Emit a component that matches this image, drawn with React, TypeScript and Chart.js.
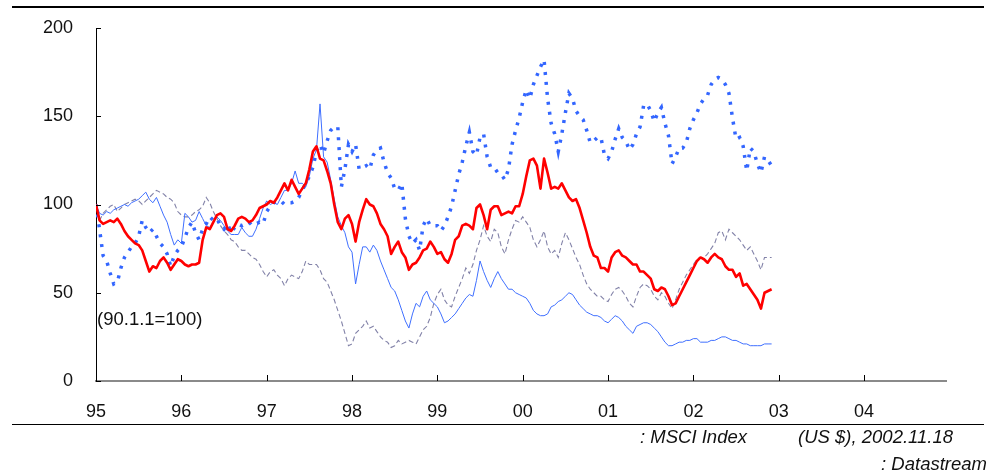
import React, { useEffect, useRef } from 'react';
import { Chart, registerables } from 'chart.js';

Chart.register(...registerables);

// Semi-monthly observations from 1995.0 to 2002.9
const START_YEAR = 1995;
const STEPS_PER_YEAR = 24;

const redSeries = [
  100, 91, 89, 90, 91, 90, 92, 89, 85, 82,
  80, 78, 77, 74, 68, 62, 65, 64, 68, 70,
  67, 63, 66, 69, 68, 66, 65, 66, 66, 67,
  80, 87, 86, 90, 94, 95, 93, 86, 85, 88,
  92, 93, 92, 90, 91, 94, 98, 99, 100, 102,
  101, 104, 108, 112, 108, 114, 110, 106, 109, 112,
  120, 130, 133, 126, 125, 119, 112, 100, 90, 86,
  92, 94, 89, 79, 90, 97, 103, 100, 99, 95,
  89, 86, 82, 72, 76, 79, 73, 70, 63, 66,
  67, 70, 74, 75, 79, 76, 72, 73, 69, 67,
  72, 80, 82, 88, 89, 88, 86, 98, 100, 94,
  86, 97, 99, 99, 94, 95, 96, 95, 99, 99,
  106, 116, 125, 126, 122, 109, 126, 118, 109, 110,
  109, 112, 108, 104, 102, 103, 98, 91, 84, 76,
  71, 70, 64, 64, 62, 70, 73, 74, 71, 70,
  68, 66, 66, 62, 62, 60, 58, 52, 51, 53,
  52, 48, 43, 44, 48, 52, 56, 60, 64, 68,
  70, 69, 67, 70, 72, 70, 69, 65, 63, 63,
  59, 61, 54, 55, 52, 49, 46, 41, 50, 51,
  52,
];

const blueDottedSeries = [
  100, 86, 71, 68, 61, 55, 56, 64, 70, 73,
  76, 78, 82, 91, 87, 84, 86, 82, 78, 76,
  72, 65, 71, 74, 76, 81, 87, 90, 84, 80,
  86, 89, 93, 91, 92, 88, 86, 89, 84, 87,
  89, 88, 89, 90, 88, 89, 90, 89, 96, 99,
  101, 102, 102, 100, 101, 101, 102, 104, 108, 112,
  116, 121, 130, 134, 129, 136, 142, 144, 144, 110,
  120, 134, 130, 134, 120, 121, 122, 120, 128, 131,
  132, 124, 118, 115, 109, 108, 112, 92, 82, 78,
  80, 74, 88, 92, 88, 88, 88, 85, 88, 93,
  99, 108, 117, 124, 133, 141, 130, 128, 138, 140,
  127, 121, 121, 118, 117, 114, 120, 134, 142, 149,
  158, 165, 160, 168, 173, 178, 182, 160, 146, 140,
  130, 140, 152, 163, 160, 153, 150, 148, 142, 135,
  136, 138, 138, 128, 126, 130, 137, 143, 138, 136,
  131, 134, 140, 144, 156, 157, 153, 147, 152, 155,
  146, 139, 123, 127, 132, 132, 135, 143, 148, 152,
  157, 160, 162, 168, 171, 172, 171, 168, 163, 149,
  137, 138, 133, 119, 132, 130, 123, 118, 127, 125,
  122,
];

const blueThinSeries = [
  100, 95, 94, 96, 95, 97, 98, 99, 100, 99,
  101, 102, 103, 105, 107, 103, 101, 104, 99, 94,
  90, 83, 77, 80, 78, 95, 93, 90, 91, 96,
  92, 88, 87, 90, 93, 91, 88, 85, 83, 83,
  83, 87, 84, 82, 82, 86, 92, 98, 102, 100,
  101, 100, 104, 108, 108, 112, 119, 112, 112, 110,
  116, 126, 131, 157, 127, 124, 114, 103, 93, 88,
  84, 76, 73, 55, 66, 76, 76, 73, 77, 74,
  68, 63, 58, 53, 51, 46, 40, 34, 30, 38,
  44, 42, 48, 51, 46, 44, 42, 38, 33, 34,
  36, 38, 41, 44, 47, 49, 48, 57, 68, 62,
  57, 53, 58, 62, 58, 55, 52, 52, 50, 49,
  48, 47, 44, 40, 38, 37, 37, 38, 42, 43,
  45, 46, 48, 50, 49, 46, 43, 41, 39, 38,
  37, 37, 36, 34, 33, 35, 37, 36, 34, 31,
  29, 27, 31, 32, 33, 33, 32, 30, 28, 25,
  22, 20, 20, 21, 22, 22, 23, 23, 24, 24,
  22, 22, 22, 23, 23, 24, 25, 25, 24, 23,
  23, 22, 21, 21, 20, 20, 20, 20, 21, 21,
  21,
];

const grayDashedSeries = [
  100, 91, 95, 97, 99, 100, 96, 98, 100, 101,
  102, 103, 102, 100, 102, 104, 106, 108, 107, 106,
  104, 103, 101, 96, 94, 93, 93, 94, 96, 97,
  99, 104, 101, 96, 92, 88, 85, 83, 80, 79,
  76, 74, 74, 72, 70, 69, 66, 62, 59, 62,
  63, 60, 58, 54, 58, 60, 59, 58, 62, 68,
  66, 66, 66, 63, 58, 56, 51, 46, 40, 34,
  27, 20, 21, 27, 29, 31, 34, 30, 31, 28,
  25, 23, 22, 19, 20, 23, 21, 22, 23, 22,
  21, 25, 29, 31, 36, 44, 49, 52, 46, 43,
  42, 48, 53, 58, 64, 61, 66, 74, 80, 88,
  82, 79, 86, 84, 76, 72, 80, 86, 91, 90,
  93, 90, 87, 80, 76, 80, 85, 76, 72, 74,
  70, 78, 84, 80, 75, 70, 66, 60, 55, 52,
  50, 48, 48, 46, 45, 49, 52, 53, 51, 48,
  44, 42, 48, 53, 55, 54, 52, 48, 46, 50,
  48, 44, 41, 46, 52, 56, 60, 63, 66, 69,
  70, 70, 72, 75, 78, 84, 85, 80, 86, 84,
  82, 80, 77, 74, 76, 72, 68, 63, 70, 70,
  70,
];

const dates = redSeries.map((_, i) => START_YEAR + i / STEPS_PER_YEAR);

const xTickYears = [1995, 1996, 1997, 1998, 1999, 2000, 2001, 2002, 2003, 2004];
const xTickLabels = ['95', '96', '97', '98', '99', '00', '01', '02', '03', '04'];
const yTickValues = [0, 50, 100, 150, 200];

const X_MIN = 1995;
const X_MAX = 2004.96;

const FONT = '"Liberation Sans", Arial, sans-serif';

const toPoints = (vals: number[]) => vals.map((v, i) => ({ x: dates[i], y: v }));

const insideTicks = {
  id: 'insideTicks',
  afterDraw(chart: any) {
    const { ctx, scales } = chart;
    const x = scales.x;
    const y = scales.y;
    ctx.save();
    ctx.strokeStyle = '#000';
    ctx.lineWidth = 1;
    yTickValues.forEach((v) => {
      const py = Math.round(y.getPixelForValue(v)) + 0.5;
      ctx.beginPath();
      ctx.moveTo(x.left, py);
      ctx.lineTo(x.left + 5, py);
      ctx.stroke();
    });
    xTickYears.forEach((v) => {
      if (v === X_MIN) return;
      const px = Math.round(x.getPixelForValue(v)) + 0.5;
      ctx.beginPath();
      ctx.moveTo(px, y.bottom);
      ctx.lineTo(px, y.bottom - 6);
      ctx.stroke();
    });
    ctx.restore();
  },
};

export default function App() {
  const canvasRef = useRef<HTMLCanvasElement | null>(null);

  useEffect(() => {
    const canvas = canvasRef.current;
    if (!canvas) return;
    const chart = new Chart(canvas, {
      type: 'line',
      data: {
        datasets: [
          {
            label: 'red',
            data: toPoints(redSeries),
            borderColor: '#FF0000',
            borderWidth: 2.6,
            pointRadius: 0,
            tension: 0,
            borderJoinStyle: 'round',
          },
          {
            label: 'blueDotted',
            data: toPoints(blueDottedSeries),
            borderColor: '#3366FF',
            borderWidth: 3.5,
            borderDash: [3, 7],
            borderCapStyle: 'butt',
            pointRadius: 0,
            tension: 0,
          },
          {
            label: 'blueThin',
            data: toPoints(blueThinSeries),
            borderColor: '#3F6FFF',
            borderWidth: 1,
            pointRadius: 0,
            tension: 0,
          },
          {
            label: 'grayDashed',
            data: toPoints(grayDashedSeries),
            borderColor: '#8282A8',
            borderWidth: 1.1,
            borderDash: [5, 3],
            pointRadius: 0,
            tension: 0,
          },
        ],
      },
      options: {
        animation: false,
        responsive: false,
        devicePixelRatio: 1,
        layout: { padding: { top: 28, left: 0, right: 55, bottom: 53 } },
        plugins: {
          legend: { display: false },
          tooltip: { enabled: false },
          title: { display: false },
        },
        scales: {
          x: {
            type: 'linear',
            min: X_MIN,
            max: X_MAX,
            grid: { display: false },
            border: { display: true, color: '#8A8A8A', width: 2 },
            afterBuildTicks: (scale: any) => {
              scale.ticks = xTickYears.map((v) => ({ value: v }));
            },
            afterFit: (scale: any) => {
              scale.height = 40;
            },
            ticks: {
              autoSkip: false,
              maxRotation: 0,
              padding: 12,
              color: '#111',
              font: { family: FONT, size: 18 },
              callback: (value: any) => {
                const idx = xTickYears.indexOf(Number(value));
                return idx >= 0 ? xTickLabels[idx] : '';
              },
            },
          },
          y: {
            type: 'linear',
            min: 0,
            max: 200,
            grid: { display: false },
            border: { display: true, color: '#000', width: 1 },
            afterBuildTicks: (scale: any) => {
              scale.ticks = yTickValues.map((v) => ({ value: v }));
            },
            afterFit: (scale: any) => {
              scale.width = 96;
            },
            ticks: {
              padding: 15,
              color: '#111',
              font: { family: FONT, size: 18 },
            },
          },
        },
      },
      plugins: [insideTicks],
    });
    return () => chart.destroy();
  }, []);

  const textBase: React.CSSProperties = {
    position: 'absolute',
    fontFamily: FONT,
    color: '#111',
    whiteSpace: 'nowrap',
    lineHeight: '20px',
  };

  return (
    <div style={{ position: 'absolute', left: 0, top: 0, width: 1001, height: 474, background: '#fff' }}>
      <canvas ref={canvasRef} width={1001} height={474} style={{ position: 'absolute', left: 0, top: 0, width: 1001, height: 474 }} />
      <div style={{ position: 'absolute', left: 12, top: 6, width: 972, height: 2, background: '#000' }} />
      <div style={{ position: 'absolute', left: 12, top: 424, width: 972, height: 1, background: '#000' }} />
      <div style={{ ...textBase, left: 97, top: 309, fontSize: 18.5 }}>(90.1.1=100)</div>
      <div style={{ ...textBase, right: 1001 - 747, top: 427, fontSize: 18.5, fontStyle: 'italic' }}>: MSCI Index</div>
      <div style={{ ...textBase, right: 1001 - 953, top: 427, fontSize: 18.5, fontStyle: 'italic' }}>(US $), 2002.11.18</div>
      <div style={{ ...textBase, right: 1001 - 987, top: 454, fontSize: 18.5, fontStyle: 'italic' }}>: Datastream</div>
    </div>
  );
}
